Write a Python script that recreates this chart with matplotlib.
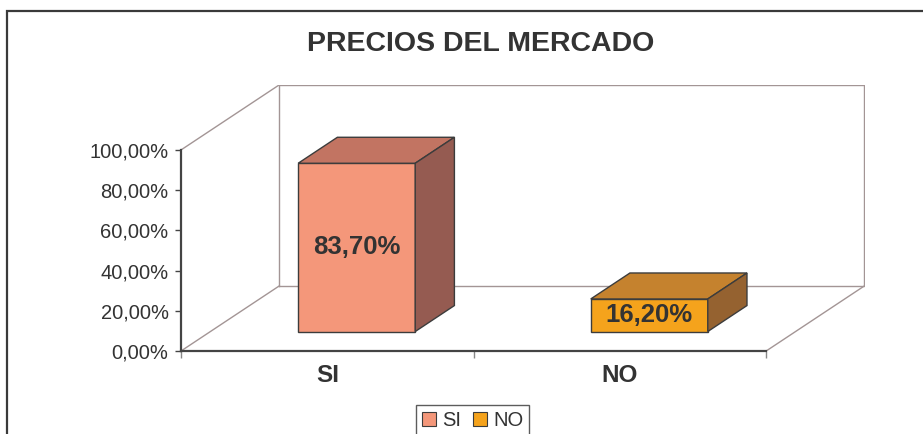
import numpy as np
import matplotlib
matplotlib.use("Agg")
import matplotlib.pyplot as plt
from matplotlib.patches import Polygon, Rectangle, Patch

plt.rcParams['font.family'] = ['Liberation Sans', 'DejaVu Sans']

categories = ["SI", "NO"]
values = [0.837, 0.162]
value_labels = ["83,70%", "16,20%"]
y_ticks = [0.0, 0.2, 0.4, 0.6, 0.8, 1.0]
y_tick_labels = ["0,00%", "20,00%", "40,00%", "60,00%", "80,00%", "100,00%"]

front_colors = ["#f4977a", "#f5a31c"]
top_colors = ["#c27462", "#c5822e"]
side_colors = ["#955b51", "#956230"]
edge = "#3c3c3c"
wall = "#a39595"

# oblique depth offset (for full depth = 1) in data units
DX, DY = 0.335, 0.323


def proj(x, y, d):
    return (x + d * DX, y + d * DY)


def main():
    fig = plt.figure(figsize=(9.23, 4.34), dpi=100)
    ax = fig.add_axes([0.1961, 0.1912, 0.7411, 0.6129])
    ax.set_xlim(0, 2.338)
    ax.set_ylim(0, 1.323)
    ax.patch.set_visible(False)

    # outer chart frame (runs past the right and bottom edges)
    top = 1 - 11 / 434
    fig.patches.append(Rectangle((7.5 / 923, -0.1), 1.1, top + 0.1,
                                 transform=fig.transFigure, fill=False,
                                 edgecolor="#3a3a3a", lw=1.6))

    # walls
    wl = dict(color=wall, lw=1.0, zorder=1)
    bx = [proj(0, 0, 1), proj(0, 1, 1), proj(2, 1, 1), proj(2, 0, 1), proj(0, 0, 1)]
    ax.plot([p[0] for p in bx], [p[1] for p in bx], **wl)
    for (x, y) in [(0, 0), (0, 1), (2, 0)]:
        a, b = proj(x, y, 0), proj(x, y, 1)
        ax.plot([a[0], b[0]], [a[1], b[1]], **wl)

    # bars
    w, d0, d1 = 0.4, 0.3, 0.7
    for i, v in enumerate(values):
        x0 = i + 0.5 - w / 2
        x1 = x0 + w
        front = [proj(x0, 0, d0), proj(x1, 0, d0), proj(x1, v, d0), proj(x0, v, d0)]
        topf = [proj(x0, v, d0), proj(x1, v, d0), proj(x1, v, d1), proj(x0, v, d1)]
        side = [proj(x1, 0, d0), proj(x1, 0, d1), proj(x1, v, d1), proj(x1, v, d0)]
        for poly, c in [(front, front_colors[i]), (topf, top_colors[i]), (side, side_colors[i])]:
            ax.add_patch(Polygon(poly, closed=True, facecolor=c, edgecolor=edge,
                                 lw=1.0, zorder=3))
        cx, cy = proj(i + 0.5, v / 2, d0)
        ax.text(cx, cy, value_labels[i], ha="center", va="center", fontsize=18.5,
                fontweight="bold", color="#333333", zorder=4)

    # axes
    for s in ["top", "right"]:
        ax.spines[s].set_visible(False)
    ax.spines["left"].set_bounds(0, 1)
    ax.spines["bottom"].set_bounds(0, 2)
    for s in ["left", "bottom"]:
        ax.spines[s].set_color("#444444")
        ax.spines[s].set_linewidth(1.6)
        ax.spines[s].set_zorder(2)
    ax.set_yticks(y_ticks)
    ax.set_yticklabels(y_tick_labels, fontsize=14.5, color="#333333")
    ax.tick_params(axis="y", length=4, width=1.0, color="#444444", pad=5)
    ax.set_xticks([0, 1, 2])
    ax.set_xticklabels(["", "", ""])
    ax.set_xticks([0.5, 1.5], minor=True)
    ax.set_xticklabels(categories, minor=True, fontsize=17.5, fontweight="bold",
                       color="#333333")
    ax.tick_params(axis="x", which="major", length=5, width=1.0, color="#888888")
    ax.tick_params(axis="x", which="minor", length=0, pad=9)

    fig.text(480.5 / 923, 1 - 44 / 434, "PRECIOS DEL MERCADO", ha="center",
             va="center", fontsize=20.5, fontweight="bold", color="#333333")

    handles = [Patch(facecolor=front_colors[i], edgecolor=edge, lw=0.8)
               for i in range(len(categories))]
    leg = fig.legend(handles, categories, loc="upper center",
                     bbox_to_anchor=(472.5 / 923, 1 - 405 / 434), ncol=2,
                     fontsize=14.5, frameon=True, fancybox=False,
                     handlelength=0.7, handleheight=0.7, handletextpad=0.3,
                     columnspacing=0.6, borderpad=0.3, borderaxespad=0)
    leg.get_frame().set_edgecolor("#333333")
    leg.get_frame().set_linewidth(1.0)
    for t in leg.get_texts():
        t.set_color("#333333")

    fig.savefig("out.png", dpi=100)


if __name__ == "__main__":
    main()
